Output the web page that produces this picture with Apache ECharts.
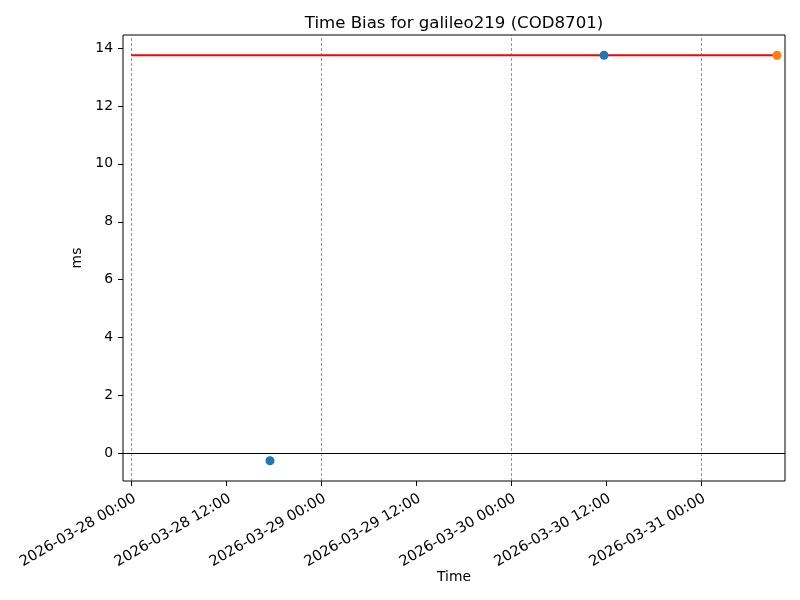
<!DOCTYPE html>
<html>
<head>
<meta charset="utf-8">
<script src="https://cdn.jsdelivr.net/npm/echarts@6/dist/echarts.min.js"></script>
<style>
  html, body { margin: 0; padding: 0; background: #fff; }
  #chart { width: 800px; height: 600px; }
</style>
</head>
<body>
<div id="chart"></div>
<script>
// values (times in UTC)
var xTicks = ['2026-03-28 00:00', '2026-03-28 12:00', '2026-03-29 00:00', '2026-03-29 12:00',
              '2026-03-30 00:00', '2026-03-30 12:00', '2026-03-31 00:00'];
var dayLines = ['2026-03-28 00:00', '2026-03-29 00:00', '2026-03-30 00:00', '2026-03-31 00:00'];
var yTicks = [0, 2, 4, 6, 8, 10, 12, 14];
var xRange = ['2026-03-27 22:58', '2026-03-31 10:39'];
var yRange = [-0.95, 14.45];

var blueTimes = ['2026-03-28 17:33', '2026-03-30 11:46'];
var blueValues = [-0.25, 13.75];
var orangeTimes = ['2026-03-31 09:38'];
var orangeValues = [13.75];
var refTimes = ['2026-03-28 00:00', '2026-03-31 09:38'];
var refValues = [13.75, 13.75];

function t(s) {
    var p = s.split(/[- :]/).map(Number);
    return Date.UTC(p[0], p[1] - 1, p[2], p[3], p[4]);
}
function pad(n) { return (n < 10 ? '0' : '') + n; }
function fmt(v) {
    var d = new Date(v);
    return d.getUTCFullYear() + '-' + pad(d.getUTCMonth() + 1) + '-' + pad(d.getUTCDate()) +
        ' ' + pad(d.getUTCHours()) + ':' + pad(d.getUTCMinutes());
}
function pairs(ts, vs) {
    return ts.map(function (s, i) { return [t(s), vs[i]]; });
}

var font = 'DejaVu Sans';
var chart = echarts.init(document.getElementById('chart'), null, { renderer: 'canvas' });

var option = {
    backgroundColor: '#fff',
    animation: false,
    textStyle: { fontFamily: font },
    title: {
        text: 'Time Bias for galileo219 (COD8701)',
        left: 449, top: 10, textAlign: 'center',
        textStyle: { fontFamily: font, fontSize: 16.6, fontWeight: 'normal', color: '#000' }
    },
    grid: {
        left: 123, right: 15, top: 35, bottom: 119,
        show: true, borderColor: '#000', borderWidth: 1, backgroundColor: 'transparent'
    },
    xAxis: {
        type: 'value',
        min: t(xRange[0]), max: t(xRange[1]),
        name: 'Time', nameLocation: 'middle', nameGap: 89, nameMoveOverlap: false,
        nameTextStyle: { fontFamily: font, fontSize: 13.9, color: '#000' },
        axisLine: { show: false, onZero: false },
        splitLine: { show: false },
        axisTick: { show: true, length: 5, lineStyle: { color: '#000', width: 1 },
                    customValues: xTicks.map(t) },
        axisLabel: {
            customValues: xTicks.map(t), rotate: 30, margin: 10,
            align: 'right', verticalAlign: 'top',
            fontFamily: font, fontSize: 14.6, color: '#000',
            formatter: function (v) { return fmt(v); }
        }
    },
    yAxis: {
        type: 'value',
        min: yRange[0], max: yRange[1],
        name: 'ms', nameLocation: 'middle', nameGap: 33, nameRotate: 90,
        nameTextStyle: { fontFamily: font, fontSize: 13.9, color: '#000' },
        axisLine: { show: false, onZero: false },
        splitLine: { show: false },
        axisTick: { show: true, length: 5, lineStyle: { color: '#000', width: 1 },
                    customValues: yTicks },
        axisLabel: { customValues: yTicks, margin: 10, fontFamily: font, fontSize: 13.9, color: '#000' }
    },
    series: [
        {
            name: 'grid', type: 'line', data: [], silent: true,
            markLine: {
                silent: true, symbol: 'none', label: { show: false },
                lineStyle: { color: 'rgba(40,90,140,0.85)', width: 0.7, type: [3, 2] },
                data: dayLines.map(function (s) { return { xAxis: t(s) }; })
            }
        },
        {
            name: 'zero', type: 'line', data: [], silent: true,
            markLine: {
                silent: true, symbol: 'none', label: { show: false },
                lineStyle: { color: '#000', width: 1, type: 'solid' },
                data: [{ yAxis: 0 }]
            }
        },
        {
            name: 'ref', type: 'line', data: pairs(refTimes, refValues),
            showSymbol: false, lineStyle: { color: '#ff0000', width: 2 }, z: 3
        },
        {
            name: 'bias', type: 'scatter', data: pairs(blueTimes, blueValues),
            symbolSize: 9, itemStyle: { color: '#1f77b4', opacity: 1 }, z: 4
        },
        {
            name: 'latest', type: 'scatter', data: pairs(orangeTimes, orangeValues),
            symbolSize: 9, itemStyle: { color: '#ff7f0e', opacity: 1 }, z: 4
        }
    ]
};
chart.setOption(option);
</script>
</body>
</html>
